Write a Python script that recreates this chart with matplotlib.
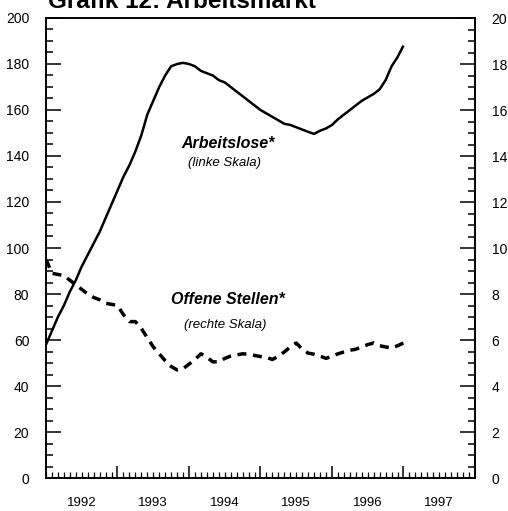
import matplotlib
matplotlib.use('Agg')
from matplotlib import pyplot as plt
import numpy as np

plt.rcParams['font.family'] = ['Liberation Sans', 'DejaVu Sans']

# monthly data, Jan 1992 .. Jan 1997 (x positions in years)
months = np.arange(61)
arbeitslose = [58, 64, 70, 75, 81, 86, 92, 97, 102, 107, 113, 119,
               125, 131, 136, 142, 149, 158, 164, 170, 175, 179, 180, 180.5,
               180, 179, 177, 176, 175, 173, 172, 170, 168, 166, 164, 162,
               160, 158.5, 157, 155.5, 154, 153.5, 152.5, 151.5, 150.5, 149.6, 151, 152,
               153.5, 156, 158, 160, 162, 164, 165.5, 167, 169, 173, 179, 183,
               188]
offene_stellen = [9.5, 8.9, 8.85, 8.8, 8.6, 8.4, 8.2, 8.0, 7.85, 7.75, 7.6, 7.55,
                  7.5, 7.1, 6.8, 6.8, 6.5, 6.1, 5.7, 5.4, 5.1, 4.85, 4.7, 4.75,
                  4.95, 5.15, 5.4, 5.25, 5.05, 5.05, 5.2, 5.3, 5.35, 5.4, 5.38, 5.33,
                  5.28, 5.25, 5.15, 5.3, 5.48, 5.7, 5.87, 5.6, 5.43, 5.38, 5.3, 5.2,
                  5.3, 5.4, 5.48, 5.55, 5.6, 5.7, 5.8, 5.87, 5.75, 5.7, 5.65, 5.75,
                  5.87]
years = [1992, 1993, 1994, 1995, 1996, 1997]

x = 1992 + months / 12.0

fig = plt.figure(figsize=(5.08, 5.11), dpi=100)
ax = fig.add_axes([46/508, 1 - 478/511, 429/508, 460/511])
ax2 = ax.twinx()

ax.plot(x, arbeitslose, color='black', lw=1.8, solid_capstyle='butt')
ax2.plot(x, offene_stellen, color='black', lw=2.5, dashes=(2.6, 1.9))

ax.set_xlim(1992, 1998)
ax.set_ylim(0, 200)
ax2.set_ylim(0, 20)

ax.set_yticks(np.arange(0, 201, 20))
ax.set_yticks(np.arange(0, 201, 5), minor=True)
ax2.set_yticks(np.arange(0, 21, 2))
ax2.set_yticks(np.arange(0, 20.1, 0.5), minor=True)
ax.set_xticks(years[1:])
ax.set_xticklabels([])
ax.set_xticks(np.arange(1992, 1998, 1/12.0), minor=True)

ax.tick_params(axis='y', which='major', direction='in', length=11, width=1.1, labelsize=10, pad=12)
ax.tick_params(axis='y', which='minor', direction='in', length=5, width=1.1)
ax2.tick_params(axis='y', which='major', direction='in', length=11, width=1.1, labelsize=10, pad=12)
ax2.tick_params(axis='y', which='minor', direction='in', length=5, width=1.1)
ax.tick_params(axis='x', which='major', direction='in', length=9, width=1.1)
ax.tick_params(axis='x', which='minor', direction='in', length=4, width=0.9)

for a in (ax, ax2):
    for s in a.spines.values():
        s.set_linewidth(1.2)

for yr in years:
    ax.text(yr + 0.5, -0.055, str(yr), transform=ax.get_xaxis_transform(),
            ha='center', va='center', fontsize=9.5)


def py(pix):
    # pixel row -> left-scale value
    return (478 - pix) / 2.3


ax.text(1994.55, py(144), 'Arbeitslose*', ha='center', va='center',
        fontsize=11.5, fontweight='bold', fontstyle='italic')
ax.text(1994.5, py(163), '(linke Skala)', ha='center', va='center',
        fontsize=9.5, fontstyle='italic')
ax.text(1994.55, py(300), 'Offene Stellen*', ha='center', va='center',
        fontsize=11.5, fontweight='bold', fontstyle='italic')
ax.text(1994.5, py(325), '(rechte Skala)', ha='center', va='center',
        fontsize=9.5, fontstyle='italic')

fig.text(48/508, 1 - 8/511, 'Grafik 12: Arbeitsmarkt', ha='left', va='baseline',
         fontsize=17.5, fontweight='bold')

fig.savefig('out.png', dpi=100)
